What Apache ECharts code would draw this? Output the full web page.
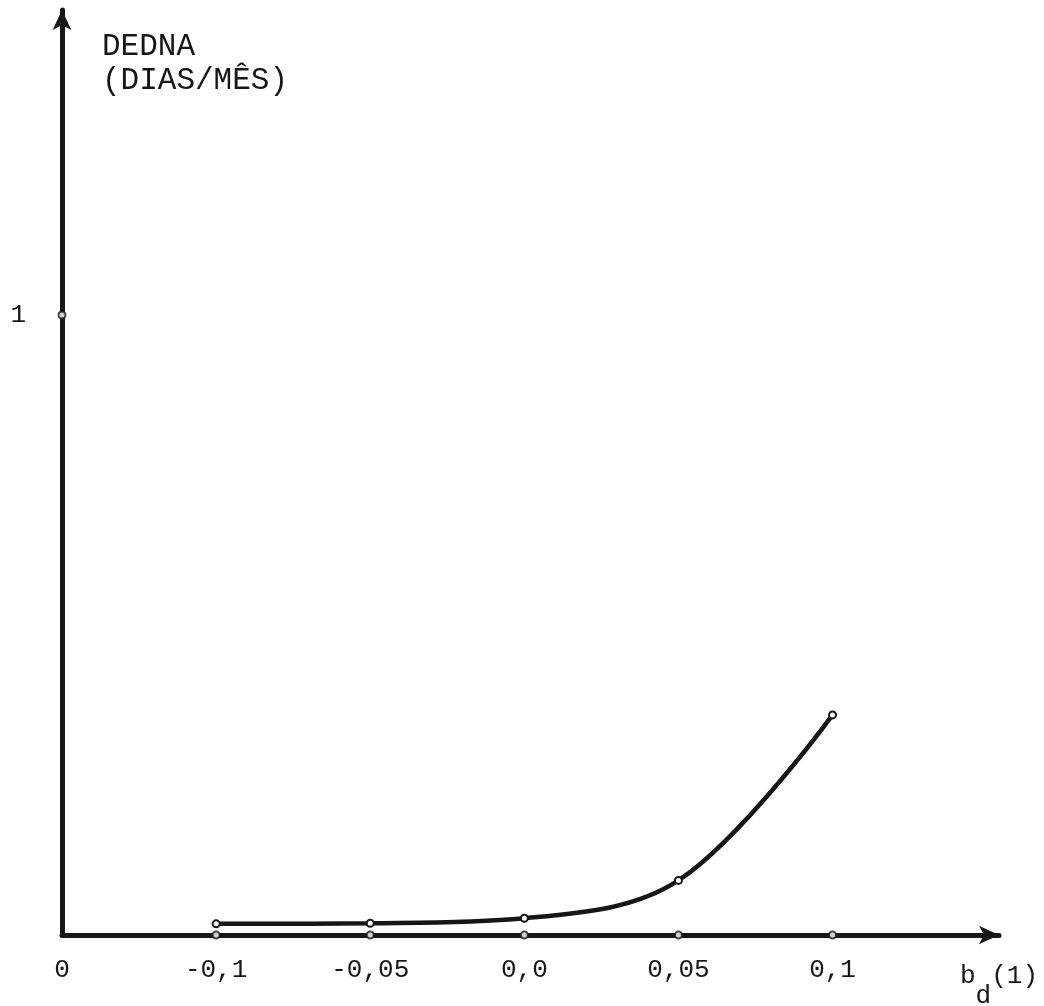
<!DOCTYPE html>
<html>
<head>
<meta charset="utf-8">
<script src="https://cdn.jsdelivr.net/npm/echarts@6/dist/echarts.min.js"></script>
<style>
  html, body { margin: 0; padding: 0; background: #fff; }
  #chart { width: 1044px; height: 1006px; }
</style>
</head>
<body>
<div id="chart"></div>
<script>
// b_d values plotted along the horizontal axis (slot 0 is the origin)
const xTickLabels = ['0', '-0,1', '-0,05', '0,0', '0,05', '0,1'];
// DEDNA response (dias/mês) at each b_d value
const dednaValues = [0.018, 0.019, 0.027, 0.088, 0.355];
const yTickLabel = '1';
const yAxisTitle = 'DEDNA\n(DIAS/MÊS)';
const xAxisTitle = 'b{sub|d}{n|(1)}';

const ink = '#161616';
const mono = '"Liberation Mono", "DejaVu Sans Mono", monospace';
const X_END = 6.08;

const curve = dednaValues.map((v, i) => [i + 1, v]);
const axisKnots = dednaValues.map((v, i) => [i + 1, 0]);

const chart = echarts.init(document.getElementById('chart'), null, { renderer: 'canvas' });
chart.setOption({
  backgroundColor: '#ffffff',
  animation: false,
  grid: { left: 62, right: 45, top: 10, bottom: 71, containLabel: false, outerBoundsMode: 'none' },
  xAxis: {
    type: 'value',
    min: 0,
    max: X_END,
    interval: 1,
    axisLine: {
      show: true,
      onZero: false,
      symbol: ['none', 'arrow'],
      symbolSize: [14, 20],
      lineStyle: { color: ink, width: 5 }
    },
    axisTick: { show: false },
    splitLine: { show: false },
    axisLabel: {
      margin: 22,
      fontFamily: mono,
      fontSize: 26,
      color: ink,
      showMaxLabel: true,
      formatter: function (v) {
        if (v === X_END) return '{n|b}' + xAxisTitle.slice(1);
        return xTickLabels[v] !== undefined ? xTickLabels[v] : '';
      },
      rich: {
        n: { fontFamily: mono, fontSize: 26, color: ink, padding: [6, 0, 20, 0] },
        sub: { fontFamily: mono, fontSize: 26, color: ink, padding: [26, 0, 0, 0] }
      }
    }
  },
  yAxis: {
    type: 'value',
    min: 0,
    max: 1.492,
    interval: 1,
    axisLine: {
      show: true,
      onZero: false,
      symbol: ['none', 'arrow'],
      symbolSize: [14, 20],
      lineStyle: { color: ink, width: 5 }
    },
    axisTick: { show: false },
    splitLine: { show: false },
    axisLabel: {
      margin: 36,
      fontFamily: mono,
      fontSize: 26,
      color: ink,
      showMaxLabel: false,
      formatter: function (v) { return v === 1 ? yTickLabel : ''; }
    }
  },
  graphic: [{
    type: 'text',
    left: 102,
    top: 30,
    style: {
      text: yAxisTitle,
      font: '31px ' + mono,
      fill: ink,
      lineHeight: 34
    }
  }],
  series: [
    {
      type: 'line',
      data: curve,
      smooth: 0.35,
      symbol: 'circle',
      symbolSize: 7,
      itemStyle: { color: '#ffffff', borderColor: ink, borderWidth: 2 },
      lineStyle: { color: ink, width: 4.5 },
      z: 3
    },
    {
      type: 'scatter',
      data: axisKnots.concat([[0, 1]]),
      symbol: 'circle',
      symbolSize: 7,
      itemStyle: { color: '#ffffff', borderColor: ink, borderWidth: 2 },
      z: 4
    }
  ]
});
</script>
</body>
</html>
